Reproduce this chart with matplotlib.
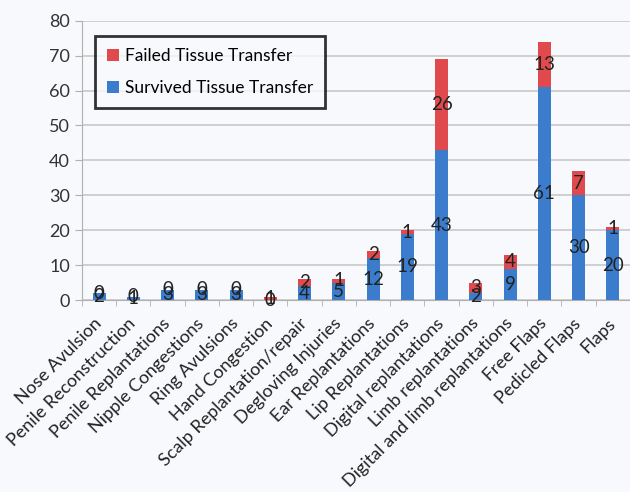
import matplotlib.pyplot as plt
import numpy as np

plt.rcParams['font.family'] = ['Lato', 'DejaVu Sans']

# Tissue transfer outcomes per indication
categories = ['Nose Avulsion', 'Penile Reconstruction', 'Penile Replantations',
              'Nipple Congestions', 'Ring Avulsions', 'Hand Congestion',
              'Scalp Replantation/repair', 'Degloving Injuries', 'Ear Replantations',
              'Lip Replantations', 'Digital replantations', 'Limb replantations',
              'Digital and limb replantations', 'Free Flaps', 'Pedicled Flaps', 'Flaps']
survived = [2, 1, 3, 3, 3, 0, 4, 5, 12, 19, 43, 2, 9, 61, 30, 20]
failed = [0, 0, 0, 0, 0, 1, 2, 1, 2, 1, 26, 3, 4, 13, 7, 1]

blue = '#3b7dcc'
red = '#e04a4c'
bg = '#f8f9fc'

fig = plt.figure(figsize=(6.3, 4.92), dpi=100, facecolor=bg)
ax = fig.add_axes([0.13, 0.39, 0.87, 0.568], facecolor=bg)

x = np.arange(len(categories))
w = 0.38
ax.bar(x, survived, w, color=blue, label='Survived Tissue Transfer', zorder=3)
ax.bar(x, failed, w, bottom=survived, color=red, label='Failed Tissue Transfer', zorder=3)

# value labels in the middle of each segment
for i in x:
    ax.text(i, survived[i] / 2, str(survived[i]), ha='center', va='center',
            fontsize=13.5, color='#222222', zorder=4)
    ax.text(i, survived[i] + failed[i] / 2, str(failed[i]), ha='center', va='center',
            fontsize=13.5, color='#222222', zorder=4)

ax.set_ylim(0, 80)
ax.set_xlim(-0.5, 15.16)
ax.set_yticks(range(0, 81, 10))
ax.yaxis.grid(True, color='#c8c8c8', linewidth=1.2, zorder=0)
ax.tick_params(axis='y', labelsize=13, colors='#b0b0b0', labelcolor='#333333', length=5)

ax.set_xticks(x)
ax.set_xticklabels(categories, rotation=45, ha='right', va='center',
                   rotation_mode='anchor', fontsize=13, color='#222222')
ax.set_xticks(np.arange(-0.5, 16, 1), minor=True)
ax.tick_params(axis='x', which='major', length=0, pad=15)
ax.tick_params(axis='x', which='minor', length=4, color='#b0b0b0')

for s in ['top', 'right']:
    ax.spines[s].set_visible(False)
for s in ['left', 'bottom']:
    ax.spines[s].set_color('#b0b0b0')

handles, labels = ax.get_legend_handles_labels()
leg = fig.legend(handles[::-1], labels[::-1], loc='upper left',
                 bbox_to_anchor=(0.151, 0.927), bbox_transform=fig.transFigure,
                 fontsize=12.5, frameon=True, fancybox=False, handlelength=0.7,
                 handleheight=0.7, handletextpad=0.3, labelspacing=0.9,
                 borderpad=0.7, borderaxespad=0)
leg.get_frame().set_edgecolor('black')
leg.get_frame().set_linewidth(2)
leg.get_frame().set_facecolor(bg)

fig.savefig('out.png', dpi=100, facecolor=bg)
